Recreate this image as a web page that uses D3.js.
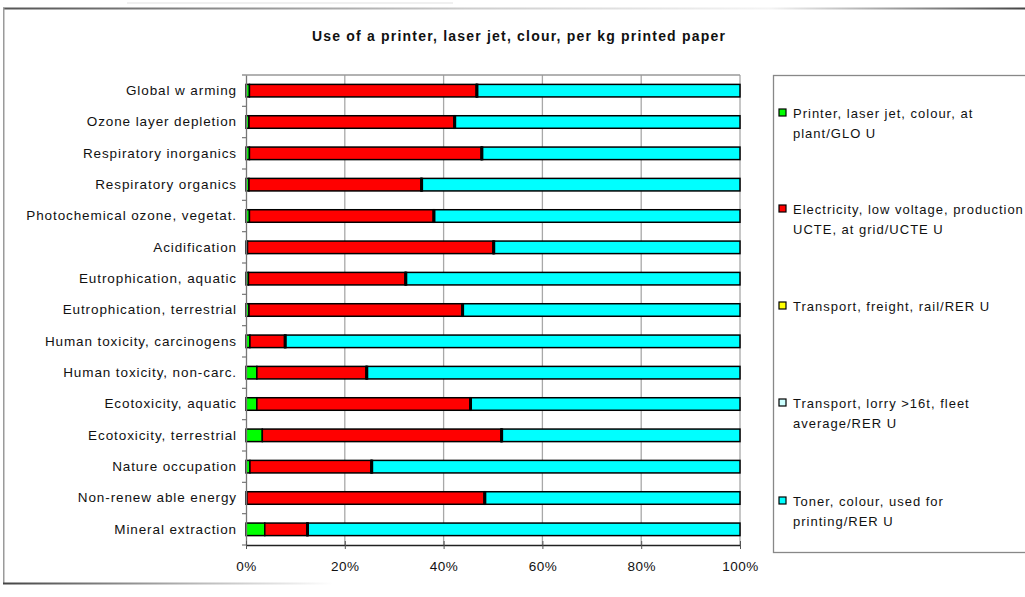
<!DOCTYPE html>
<html>
<head>
<meta charset="utf-8">
<script src="https://cdn.jsdelivr.net/npm/d3@7"></script>
<style>
  html, body { margin: 0; padding: 0; background: #fff; }
  svg { display: block; font-family: "Liberation Sans", Arial, sans-serif; }
</style>
</head>
<body>
<svg id="chart" width="1025" height="597"></svg>
<script>
// Impact categories (top to bottom)
const categories = [
  "Global w arming",
  "Ozone layer depletion",
  "Respiratory inorganics",
  "Respiratory organics",
  "Photochemical ozone, vegetat.",
  "Acidification",
  "Eutrophication, aquatic",
  "Eutrophication, terrestrial",
  "Human toxicity, carcinogens",
  "Human toxicity, non-carc.",
  "Ecotoxicity, aquatic",
  "Ecotoxicity, terrestrial",
  "Nature occupation",
  "Non-renew able energy",
  "Mineral extraction"
];

// Share of each process per category, in percent
const printer     = [0.7, 0.6, 0.7, 0.6, 0.7, 0.3, 0.5, 0.6, 0.8, 2.2, 2.2, 3.3, 0.8, 0.2, 3.8];
const electricity = [45.9, 41.5, 46.9, 34.8, 37.2, 49.7, 31.7, 43.1, 7.0, 22.1, 43.1, 48.3, 24.5, 48.0, 8.5];
const rail        = [0.1, 0.1, 0.1, 0.1, 0.1, 0.1, 0.1, 0.1, 0.1, 0.1, 0.1, 0.1, 0.1, 0.1, 0.1];
const lorry       = [0.2, 0.2, 0.2, 0.2, 0.2, 0.2, 0.2, 0.2, 0.2, 0.2, 0.2, 0.2, 0.2, 0.2, 0.2];
const toner       = [53.1, 57.6, 52.1, 64.3, 61.8, 49.7, 67.5, 56.0, 91.9, 75.4, 54.4, 48.1, 74.4, 51.5, 87.4];

const xTicks = [0, 20, 40, 60, 80, 100];

const seriesNames = [
  ["Printer, laser jet, colour, at", "plant/GLO U"],
  ["Electricity, low  voltage, production", "UCTE, at grid/UCTE U"],
  ["Transport, freight, rail/RER U"],
  ["Transport, lorry >16t, fleet", "average/RER U"],
  ["Toner, colour, used for", "printing/RER U"]
];
const seriesColors = ["#00ff00", "#ff0000", "#ffff00", "#ccffff", "#00ffff"];
const seriesValues = [printer, electricity, rail, lorry, toner];

const svg = d3.select("#chart");

// Outer chart frame
const defs = svg.append("defs");
const gTop = defs.append("linearGradient").attr("id", "frameTop");
gTop.append("stop").attr("offset", "0%").attr("stop-color", "#555");
gTop.append("stop").attr("offset", "45%").attr("stop-color", "#ccc");
gTop.append("stop").attr("offset", "75%").attr("stop-color", "#f4f4f4");
gTop.append("stop").attr("offset", "100%").attr("stop-color", "#444");
const gBot = defs.append("linearGradient").attr("id", "frameBot");
gBot.append("stop").attr("offset", "0%").attr("stop-color", "#444");
gBot.append("stop").attr("offset", "60%").attr("stop-color", "#bbb");
gBot.append("stop").attr("offset", "100%").attr("stop-color", "#fff");

svg.append("rect").attr("x", 127).attr("y", 2.5).attr("width", 326).attr("height", 1)
  .attr("fill", "#e2e2e2");
svg.append("rect").attr("x", 3).attr("y", 7.5).attr("width", 1022).attr("height", 2)
  .attr("fill", "url(#frameTop)");
svg.append("rect").attr("x", 3).attr("y", 8).attr("width", 1.5).attr("height", 576)
  .attr("fill", "#9a9a9a");
svg.append("rect").attr("x", 3).attr("y", 582.5).attr("width", 330).attr("height", 2)
  .attr("fill", "url(#frameBot)");

// Title
svg.append("text")
  .attr("x", 519).attr("y", 41)
  .attr("text-anchor", "middle")
  .attr("font-size", 14).attr("font-weight", "bold")
  .attr("letter-spacing", 1.2)
  .attr("fill", "#111")
  .text("Use of a printer, laser jet, clour, per kg printed paper");

// Scales
const plot = { left: 246, right: 740, top: 75, bottom: 545 };
const x = d3.scaleLinear().domain([0, 100]).range([plot.left, plot.right]);
const y = d3.scaleBand().domain(categories).range([plot.top, plot.bottom])
  .paddingInner(0.6).paddingOuter(0.3);

// Gridlines
svg.append("g").selectAll("line").data(xTicks.slice(1)).join("line")
  .attr("x1", d => x(d)).attr("x2", d => x(d))
  .attr("y1", plot.top).attr("y2", plot.bottom)
  .attr("stroke", "#a8a8a8").attr("stroke-width", 1.3);
svg.append("line")
  .attr("x1", plot.left).attr("x2", plot.right)
  .attr("y1", plot.top).attr("y2", plot.top)
  .attr("stroke", "#999").attr("stroke-width", 1.3);

// Stacked bars
const rows = categories.map((c, i) => {
  let acc = 0;
  return seriesValues.map((vals, s) => {
    const seg = { cat: c, s, x0: acc, x1: acc + vals[i] };
    acc += vals[i];
    return seg;
  });
});

const barG = svg.append("g");
rows.forEach(row => {
  barG.selectAll(null).data(row).join("rect")
    .attr("x", d => x(d.x0))
    .attr("y", d => y(d.cat))
    .attr("width", d => x(d.x1) - x(d.x0))
    .attr("height", y.bandwidth())
    .attr("fill", d => seriesColors[d.s])
    .attr("stroke", "#000")
    .attr("stroke-width", 1.5);
});

// Category axis
const yAxis = svg.append("g")
  .attr("transform", `translate(${plot.left},0)`)
  .call(d3.axisLeft(y).tickSize(0).tickPadding(9));
yAxis.select(".domain").attr("stroke", "#777").attr("stroke-width", 1.3);
yAxis.selectAll("text").attr("font-size", 13.5).attr("fill", "#111")
  .attr("letter-spacing", 0.9)
  .attr("font-family", "Liberation Sans, Arial, sans-serif");

// Category boundary ticks
const bounds = d3.range(categories.length + 1).map(i => plot.top + i * y.step());
svg.append("g").selectAll("line").data(bounds).join("line")
  .attr("x1", plot.left - 4).attr("x2", plot.left)
  .attr("y1", d => d).attr("y2", d => d)
  .attr("stroke", "#777").attr("stroke-width", 1.2);

// Value axis
const xAxis = svg.append("g")
  .attr("transform", `translate(0,${plot.bottom})`)
  .call(d3.axisBottom(x).tickValues(xTicks).tickFormat(d => d + "%")
    .tickSizeInner(4).tickSizeOuter(0).tickPadding(12));
xAxis.select(".domain").attr("stroke", "#222").attr("stroke-width", 1.5);
xAxis.selectAll(".tick line").attr("y1", -4).attr("stroke", "#555");
xAxis.selectAll("text").attr("font-size", 13.5).attr("fill", "#111")
  .attr("letter-spacing", 0.5)
  .attr("font-family", "Liberation Sans, Arial, sans-serif");

// Legend
const legend = svg.append("g");
legend.append("rect")
  .attr("x", 773.5).attr("y", 75.5).attr("width", 270).attr("height", 477)
  .attr("fill", "#fff").attr("stroke", "#888").attr("stroke-width", 1.3);
const legendY = [113, 209, 306, 403, 501];
seriesNames.forEach((lines, i) => {
  const g = legend.append("g").attr("transform", `translate(0,${legendY[i]})`);
  g.append("rect").attr("x", 779).attr("y", -4).attr("width", 7).attr("height", 7)
    .attr("fill", seriesColors[i]).attr("stroke", "#000").attr("stroke-width", 1.2);
  lines.forEach((t, j) => {
    g.append("text").attr("x", 793).attr("y", 5 + j * 20)
      .attr("font-size", 13).attr("letter-spacing", 1.0)
      .attr("fill", "#111").text(t);
  });
});
</script>
</body>
</html>
